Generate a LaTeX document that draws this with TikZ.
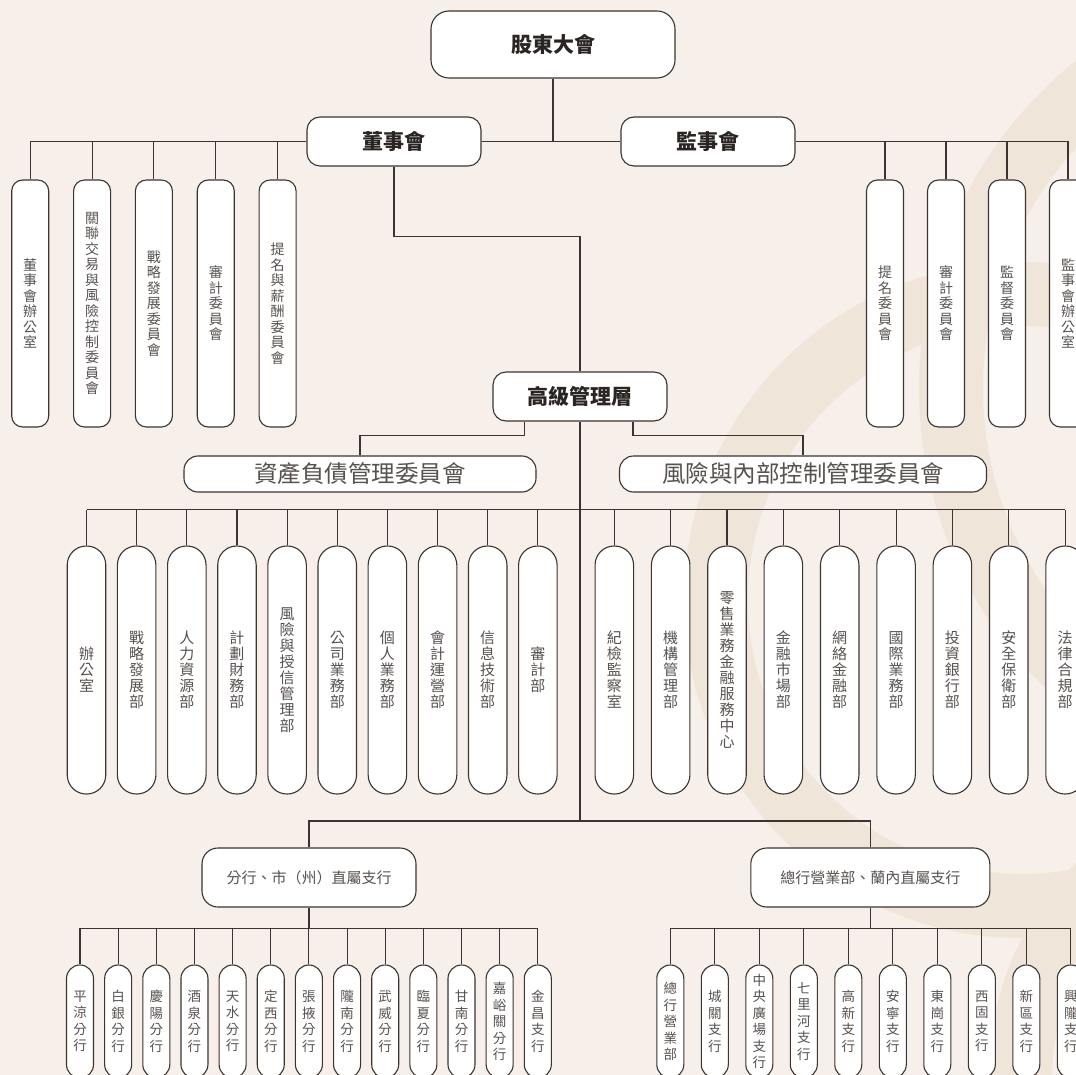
\documentclass[tikz,border=0pt]{standalone}
\usepackage{fontspec}
\setmainfont{Noto Sans CJK TC}
\usetikzlibrary{positioning}

\definecolor{fond}{HTML}{F7F0EA}
\definecolor{filigrane}{HTML}{EFE5D8}
\definecolor{trait}{HTML}{3B3431}
\definecolor{titre}{HTML}{2A2522}
\definecolor{gris}{HTML}{57524F}

% texte vertical, un caractere par ligne
\makeatletter
\newcommand\vlabel[1]{\expandafter\vl@next#1\@nil}
\def\vl@next#1#2\@nil{#1\ifx\relax#2\relax\expandafter\@gobble\else\expandafter\@firstofone\fi{\\\vl@next#2\@nil}}
\makeatother

\tikzset{
  box/.style={draw=trait, fill=white, line width=1.1pt, inner sep=0pt, align=center},
  topbox/.style={box, minimum width=244pt, minimum height=67pt, rounded corners=18pt,
    font=\fontsize{21}{26}\selectfont\bfseries, text=titre},
  headbox/.style={box, minimum width=174pt, minimum height=49pt, rounded corners=13pt,
    font=\fontsize{21}{26}\selectfont\bfseries, text=titre},
  combox/.style={box, minimum height=36pt, rounded corners=14pt,
    font=\fontsize{23.5}{28}\selectfont, text=gris},
  brbox/.style={box, minimum height=59pt, rounded corners=16pt,
    font=\fontsize{15}{18}\selectfont, text=gris},
  colpil/.style={box, minimum width=37pt, minimum height=247pt, rounded corners=11pt,
    font=\fontsize{14}{15.5}\selectfont, text=gris},
  deppil/.style={box, minimum width=38.5pt, minimum height=248pt, rounded corners=19pt,
    font=\fontsize{15}{16}\selectfont, text=gris},
  brpil/.style={box, minimum width=27pt, minimum height=113pt, rounded corners=13.5pt,
    font=\fontsize{13.5}{16.5}\selectfont, text=gris},
}

\begin{document}
\begin{tikzpicture}[x=1pt, y=-1pt, line width=1.1pt, draw=trait]
  \fill[fond] (0,0) rectangle (1076,1075);
  \useasboundingbox (0,0) rectangle (1076,1075);

  % filigrane
  \begin{scope}
    \clip (0,0) rectangle (1076,1075);
    \draw[filigrane, line width=64pt] (1339,388) circle[radius=388];
    \draw[filigrane, line width=64pt] (1022,600) circle[radius=306];
    \draw[filigrane, line width=64pt] (1300,1080) circle[radius=280];
  \end{scope}

  % sommet
  \node[topbox] at (553,44.5) (agm) {股東大會};
  \node[headbox] at (394,141.5) (board) {董事會};
  \node[headbox] at (708,141.5) (sup) {監事會};

  % comites du conseil et du conseil de surveillance
  \foreach \n [count=\i from 0] in {董事會辦公室,關聯交易與風險控制委員會,戰略發展委員會,審計委員會,提名與薪酬委員會}
    \node[colpil] at ({30.2+61.85*\i},303.5) (bd\i) {\vlabel{\n}};
  \foreach \n [count=\i from 0] in {提名委員會,審計委員會,監督委員會,監事會辦公室}
    \node[colpil] at ({885+61*\i},303.5) (sp\i) {\vlabel{\n}};

  \draw (agm) -- (agm |- board);
  \draw (bd0 |- board) -- (board);
  \draw (board) -- (sup);
  \draw (sup) -- (sp3 |- sup);
  \foreach \i in {0,...,4} \draw (bd\i) -- (bd\i |- board);
  \foreach \i in {0,...,3} \draw (sp\i) -- (sp\i |- sup);

  % direction
  \node[headbox] at (580,396.5) (mgmt) {高級管理層};
  \coordinate (k1) at (394,236.3);
  \draw (board) -- (k1) -| (mgmt);

  \node[combox, minimum width=352pt] at (360,474) (alco) {資產負債管理委員會};
  \node[combox, minimum width=367pt] at (803,474) (ricc) {風險與內部控制管理委員會};
  \coordinate (k2) at (524.3,435.7);
  \coordinate (k3) at (633,435.7);
  \draw (k2 |- mgmt.south) -- (k2) -| (alco);
  \draw (k3 |- mgmt.south) -- (k3) -| (ricc);

  % departements
  \foreach \n [count=\i from 0] in {辦公室,戰略發展部,人力資源部,計劃財務部,風險與授信管理部,公司業務部,個人業務部,會計運營部,信息技術部,審計部}
    \node[deppil] at ({86.5+50.15*\i},670) (dl\i) {\vlabel{\n}};
  \foreach \n [count=\i from 0] in {紀檢監察室,機構管理部,零售業務金融服務中心,金融市場部,網絡金融部,國際業務部,投資銀行部,安全保衛部,法律合規部}
    \node[deppil] at ({614.3+56.35*\i},670) (dr\i) {\vlabel{\n}};

  \coordinate (bus3) at (580,509.5);
  \draw (dl0 |- bus3) -- (dr8 |- bus3);
  \foreach \i in {0,...,9} \draw (dl\i) -- (dl\i |- bus3);
  \foreach \i in {0,...,8} \draw (dr\i) -- (dr\i |- bus3);

  % succursales
  \node[brbox, minimum width=214pt] at (309,877.5) (city) {分行、市（州）直屬支行};
  \node[brbox, minimum width=239pt] at (870.3,877.5) (hq) {總行營業部、蘭內直屬支行};
  \coordinate (k4) at (580,821);
  \draw (mgmt) -- (k4);
  \draw (city) |- (k4) -| (hq);

  \foreach \n [count=\i from 0] in {平涼分行,白銀分行,慶陽分行,酒泉分行,天水分行,定西分行,張掖分行,隴南分行,武威分行,臨夏分行,甘南分行,嘉峪關分行,金昌支行}
    \node[brpil] at ({80+38.15*\i},1021.5) (bl\i) {\vlabel{\n}};
  \foreach \n [count=\i from 0] in {總行營業部,城關支行,中央廣場支行,七里河支行,高新支行,安寧支行,東崗支行,西固支行,新區支行,興隴支行}
    \node[brpil] at ({670.3+44.5*\i},1021.5) (br\i) {\vlabel{\n}};

  \coordinate (bus4) at (309,928.3);
  \draw (city) -- (city |- bus4);
  \draw (hq) -- (hq |- bus4);
  \draw (bl0 |- bus4) -- (bl12 |- bus4);
  \draw (br0 |- bus4) -- (br9 |- bus4);
  \foreach \i in {0,...,12} \draw (bl\i) -- (bl\i |- bus4);
  \foreach \i in {0,...,9} \draw (br\i) -- (br\i |- bus4);
\end{tikzpicture}
\end{document}
